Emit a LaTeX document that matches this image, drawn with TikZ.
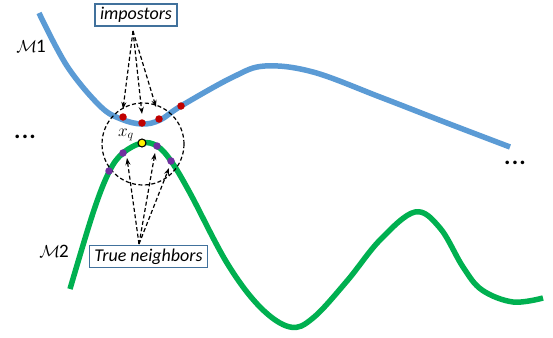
\documentclass[tikz,border=0pt]{standalone}
\usepackage{fontspec}
\setmainfont{Carlito}
\usetikzlibrary{arrows.meta}

\definecolor{manblue}{RGB}{91,155,213}
\definecolor{mangreen}{RGB}{0,176,80}
\definecolor{boxframe}{RGB}{65,113,156}
\definecolor{impred}{RGB}{192,0,0}
\definecolor{nbpurple}{RGB}{112,48,160}

\tikzset{
  labelbox/.style={draw=boxframe,line width=1.3pt,fill=white,inner xsep=5pt,
    inner ysep=2pt,minimum height=22pt,font=\fontsize{18}{20}\selectfont\itshape},
  manifold/.style={line width=5.5pt,line join=round},
  pointer/.style={black,line width=1.2pt,dash pattern=on 4pt off 2.5pt,
    -{Stealth[length=7pt,width=5pt]}},
  impdot/.style={circle,fill=impred,inner sep=0pt,minimum size=7.5pt},
  nbdot/.style={circle,fill=nbpurple,inner sep=0pt,minimum size=7.5pt},
  query/.style={circle,fill=yellow,draw=black,line width=1.1pt,inner sep=0pt,minimum size=8pt},
  ellip/.style={font=\fontsize{24}{24}\selectfont\bfseries},
}

\begin{document}
\begin{tikzpicture}[x=1pt,y=-1pt]
        \useasboundingbox (0,0) rectangle (553,337);

        % manifold M1 (blue)
        \draw[manifold,manblue] plot[smooth,tension=0.6] coordinates {
          (39,13) (67,66) (100,106) (121,119) (142,124) (160,120) (181,106)
          (233,77) (265,66) (313,72) (380,97) (447,123) (510,147)};

        % manifold M2 (green)
        \draw[manifold,mangreen] plot[smooth,tension=0.6] coordinates {
          (70,289) (93,213) (109,172) (123,153) (142,143) (157,146) (171,161)
          (190,193) (227,263) (260,307) (290,327) (313,318) (347,281)
          (380,240) (415,212) (440,228) (463,267) (482,290) (513,302) (543,298)};

        % neighbourhood of the query
        \draw[black,line width=1.2pt,dash pattern=on 4pt off 2.5pt] (143,144) circle (41pt);

        % impostors on M1
        \node[impdot] (r1) at (123,117) {};
        \node[impdot] (r2) at (142,123) {};
        \node[impdot] (r3) at (159,119) {};
        \node[impdot] (r4) at (181,106) {};

        % true neighbours on M2
        \node[nbdot] (p1) at (123,153) {};
        \node[nbdot] (p2) at (157,146) {};
        \node[nbdot] (p3) at (171,161) {};
        \node[nbdot] (p4) at (109,171) {};

        \node[query] (xq) at (142,143) {};
        \node (xqlab) at (126,135) {\fontsize{18}{18}\selectfont$x_q$};

        % labels
        \node[labelbox] (imp) at (136,15) {impostors};
        \node[labelbox] (tn) at (148.5,256.5) {True neighbors};
        \node (m1) at (31,46) {\fontsize{19}{20}\selectfont$\mathcal{M}$\kern-1pt1};
        \node (m2) at (54,251) {\fontsize{19}{20}\selectfont$\mathcal{M}$\kern-1pt2};
        \node[ellip] (dl) at (25,137) {.\kern1.2pt.\kern1.2pt.};
        \node[ellip] (dr) at (515,163) {.\kern1.2pt.\kern1.2pt.};

        % arrows
        \coordinate (impfoot) at (133,31);
        \coordinate (tnhead) at (139,244);
        \coordinate (a1) at (123,109);
        \coordinate (a2) at (142,114);
        \coordinate (a3) at (156,107);
        \coordinate (b1) at (127,158);
        \coordinate (b2) at (155,153);
        \coordinate (b3) at (169,168);

        \foreach \t in {a1,a2,a3}
          \draw[pointer] (impfoot) -- (\t);
        \foreach \t in {b1,b2,b3}
          \draw[pointer] (tnhead) -- (\t);
\end{tikzpicture}
\end{document}
